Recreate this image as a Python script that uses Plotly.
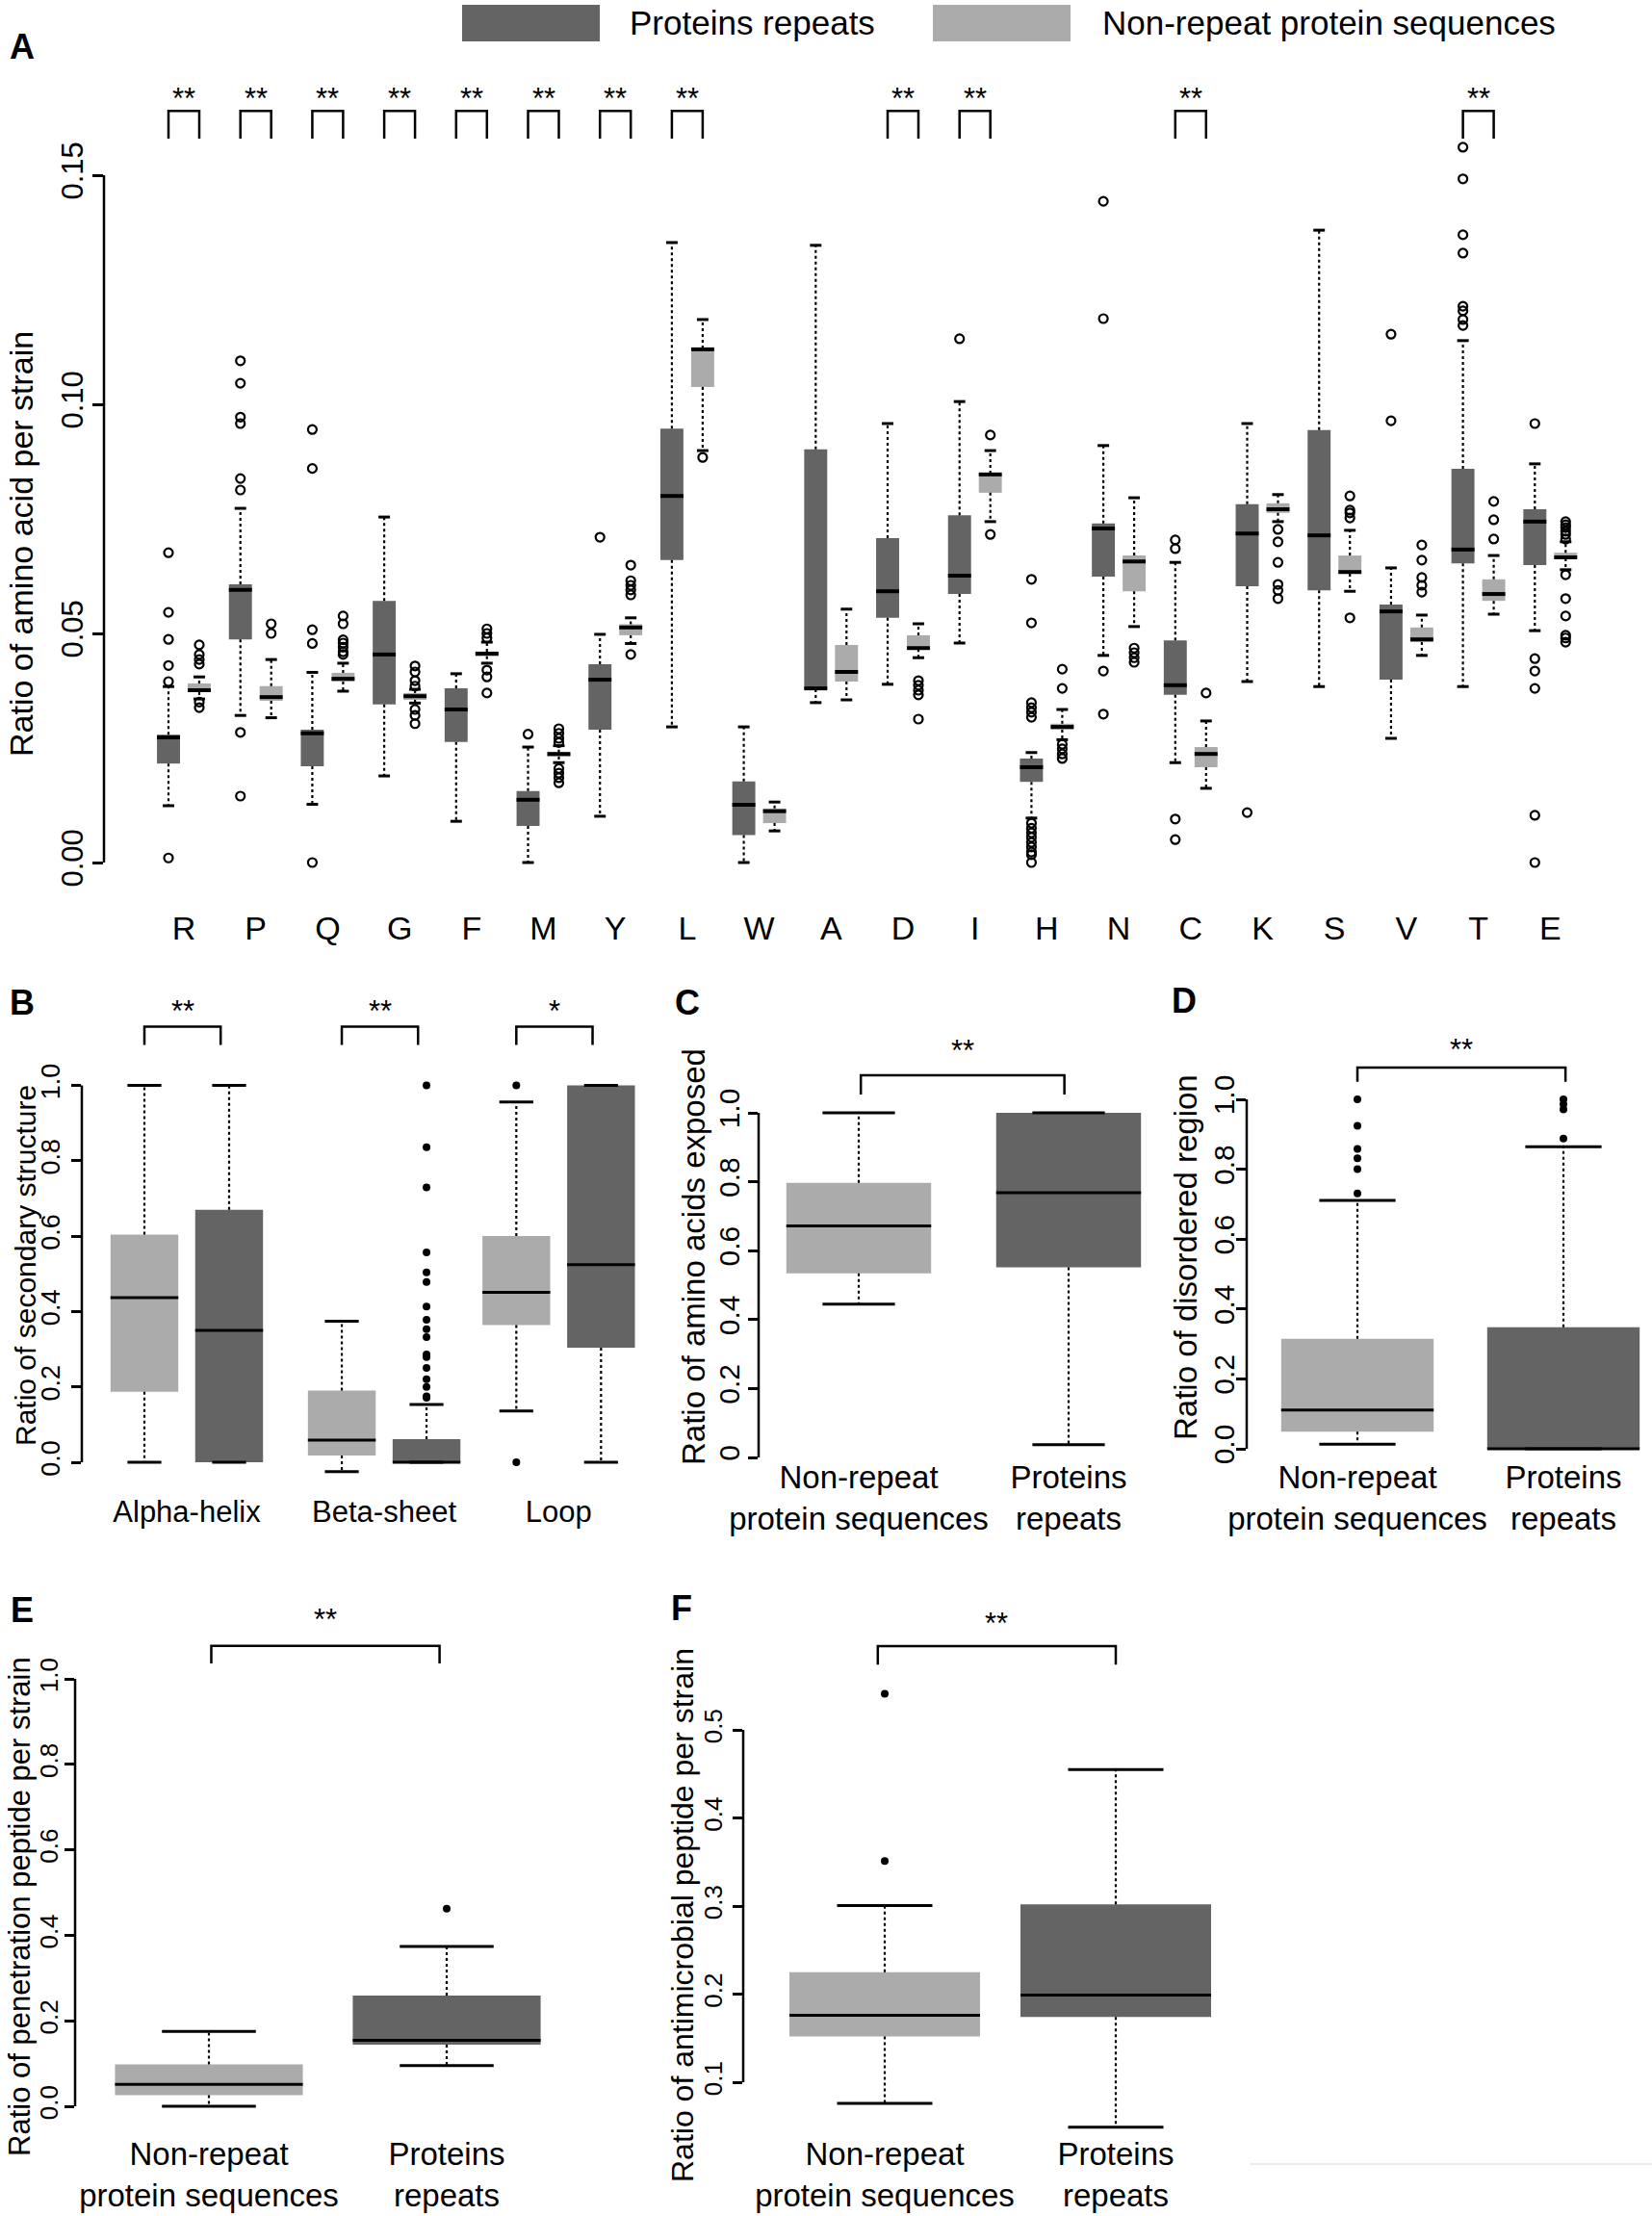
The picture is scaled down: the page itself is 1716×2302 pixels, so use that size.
import plotly.graph_objects as go

# ============================ DATA ============================
AMINO_ACIDS = ["R", "P", "Q", "G", "F", "M", "Y", "L", "W", "A",
               "D", "I", "H", "N", "C", "K", "S", "V", "T", "E"]
A_SIGNIF = ["**", "**", "**", "**", "**", "**", "**", "**", "", "",
            "**", "**", "", "", "**", "", "", "", "**", ""]

# Panel A - Proteins repeats (dark)
A_REP_LOW = [0.0124, 0.0321, 0.0127, 0.0189, 0.0090, 0.0000, 0.0101, 0.0296, 0.0000, 0.0349,
             0.0389, 0.0479, 0.0097, 0.0452, 0.0218, 0.0395, 0.0384, 0.0271, 0.0384, 0.0506]
A_REP_Q1 = [0.0216, 0.0487, 0.0210, 0.0345, 0.0263, 0.0080, 0.0290, 0.0660, 0.0060, 0.0378,
            0.0534, 0.0586, 0.0176, 0.0624, 0.0366, 0.0603, 0.0594, 0.0399, 0.0653, 0.0649]
A_REP_MED = [0.0273, 0.0595, 0.0282, 0.0454, 0.0334, 0.0137, 0.0399, 0.0800, 0.0126, 0.0380,
             0.0592, 0.0626, 0.0208, 0.0729, 0.0387, 0.0718, 0.0714, 0.0548, 0.0683, 0.0744]
A_REP_Q3 = [0.0279, 0.0607, 0.0290, 0.0571, 0.0380, 0.0156, 0.0433, 0.0947, 0.0177, 0.0902,
            0.0708, 0.0758, 0.0227, 0.0740, 0.0485, 0.0782, 0.0944, 0.0563, 0.0859, 0.0771]
A_REP_HIGH = [0.0384, 0.0773, 0.0415, 0.0754, 0.0412, 0.0252, 0.0498, 0.1353, 0.0296, 0.1347,
              0.0958, 0.1006, 0.0240, 0.0910, 0.0655, 0.0958, 0.1380, 0.0643, 0.1139, 0.0870]
A_REP_OUT = [
    [0.0676, 0.0546, 0.0487, 0.0430, 0.0395, 0.0010],
    [0.1095, 0.1046, 0.0972, 0.0958, 0.0838, 0.0813, 0.0284, 0.0145],
    [0.0945, 0.0860, 0.0508, 0.0478, 0.0000],
    [],
    [],
    [0.0280],
    [0.0710],
    [],
    [],
    [],
    [],
    [0.1143],
    [0.0618, 0.0523, 0.0349, 0.0338, 0.0328, 0.0317, 0.0086, 0.0075, 0.0065, 0.0055,
     0.0044, 0.0034, 0.0023, 0.0017, 0.0000],
    [0.1443, 0.1187, 0.0418, 0.0324],
    [0.0704, 0.0685, 0.0095, 0.0050],
    [0.0109],
    [],
    [0.1153, 0.0964],
    [0.1561, 0.1492, 0.1370, 0.1330, 0.1214, 0.1204, 0.1185, 0.1172],
    [0.0958, 0.0445, 0.0418, 0.0380, 0.0103, 0.0000],
]

# Panel A - Non-repeat protein sequences (light)
A_NON_LOW = [0.0357, 0.0316, 0.0374, 0.0348, 0.0435, 0.0218, 0.0478, 0.0899, 0.0069, 0.0355,
             0.0447, 0.0744, 0.0268, 0.0515, 0.0162, 0.0744, 0.0592, 0.0452, 0.0542, 0.0639]
A_NON_Q1 = [0.0372, 0.0353, 0.0395, 0.0355, 0.0450, 0.0231, 0.0496, 0.1038, 0.0086, 0.0395,
            0.0466, 0.0807, 0.0290, 0.0592, 0.0208, 0.0763, 0.0630, 0.0481, 0.0571, 0.0664]
A_NON_MED = [0.0376, 0.0361, 0.0401, 0.0363, 0.0456, 0.0237, 0.0513, 0.1120, 0.0112, 0.0416,
             0.0468, 0.0847, 0.0296, 0.0657, 0.0237, 0.0771, 0.0634, 0.0487, 0.0586, 0.0666]
A_NON_Q3 = [0.0391, 0.0385, 0.0414, 0.0370, 0.0460, 0.0240, 0.0520, 0.1122, 0.0118, 0.0475,
            0.0496, 0.0849, 0.0303, 0.0670, 0.0252, 0.0784, 0.0670, 0.0513, 0.0618, 0.0676]
A_NON_HIGH = [0.0405, 0.0443, 0.0435, 0.0378, 0.0481, 0.0255, 0.0534, 0.1185, 0.0132, 0.0553,
              0.0521, 0.0899, 0.0334, 0.0796, 0.0309, 0.0803, 0.0725, 0.0540, 0.0670, 0.0700]
A_NON_OUT = [
    [0.0475, 0.0454, 0.0443, 0.0433, 0.0350, 0.0338],
    [0.0521, 0.0500],
    [0.0538, 0.0521, 0.0486, 0.0479, 0.0470, 0.0460, 0.0454],
    [0.0429, 0.0416, 0.0397, 0.0385, 0.0334, 0.0321, 0.0303],
    [0.0510, 0.0500, 0.0490, 0.0420, 0.0405, 0.0370],
    [0.0292, 0.0282, 0.0271, 0.0262, 0.0205, 0.0195, 0.0185, 0.0174],
    [0.0649, 0.0615, 0.0605, 0.0595, 0.0584, 0.0454],
    [0.0884],
    [],
    [],
    [0.0397, 0.0387, 0.0376, 0.0366, 0.0313],
    [0.0933, 0.0716],
    [0.0422, 0.0380, 0.0258, 0.0248, 0.0237, 0.0227],
    [0.0468, 0.0458, 0.0447, 0.0437],
    [0.0370],
    [0.0727, 0.0700, 0.0655, 0.0607, 0.0594, 0.0576],
    [0.0800, 0.0769, 0.0763, 0.0752, 0.0534],
    [0.0693, 0.0660, 0.0622, 0.0605, 0.0590],
    [0.0788, 0.0748, 0.0706],
    [0.0744, 0.0737, 0.0731, 0.0723, 0.0716, 0.0706, 0.0628, 0.0576, 0.0538, 0.0496,
     0.0490, 0.0481],
]

# Panel B - secondary structure
B_CATEGORIES = ["Alpha-helix", "Beta-sheet", "Loop"]
B_SIGNIF = ["**", "**", "*"]
B_NON_LOW = [0.000, -0.025, 0.136]
B_NON_Q1 = [0.187, 0.018, 0.364]
B_NON_MED = [0.437, 0.059, 0.451]
B_NON_Q3 = [0.604, 0.190, 0.600]
B_NON_HIGH = [1.000, 0.374, 0.956]
B_NON_OUT = [[], [], [1.000, 0.000]]
B_REP_LOW = [0.000, 0.000, 0.000]
B_REP_Q1 = [0.000, 0.000, 0.304]
B_REP_MED = [0.350, 0.000, 0.524]
B_REP_Q3 = [0.670, 0.061, 1.000]
B_REP_HIGH = [1.000, 0.153, 1.000]
B_REP_OUT = [[], [1.000, 0.836, 0.729, 0.557, 0.504, 0.478, 0.413, 0.378, 0.353, 0.332,
                  0.286, 0.279, 0.250, 0.220, 0.200, 0.175, 0.171], []]

# Panels C-F: [Non-repeat protein sequences, Proteins repeats]
GROUP_LABELS = ["Non-repeat<br>protein sequences", "Proteins<br>repeats"]
C_LOW, C_Q1, C_MED, C_Q3, C_HIGH = [0.445, 0.037], [0.534, 0.552], [0.672, 0.768], [0.797, 1.000], [1.000, 1.000]
C_OUT = [[], []]
D_LOW, D_Q1, D_MED, D_Q3, D_HIGH = [0.013, 0.000], [0.049, 0.000], [0.111, 0.000], [0.315, 0.348], [0.711, 0.864]
D_OUT = [[1.000, 0.924, 0.858, 0.831, 0.800, 0.731], [1.000, 0.986, 0.971, 0.888]]
E_LOW, E_Q1, E_MED, E_Q3, E_HIGH = [0.000, 0.095], [0.026, 0.144], [0.051, 0.154], [0.098, 0.259], [0.175, 0.374]
E_OUT = [[], [0.462]]
F_LOW, F_Q1, F_MED, F_Q3, F_HIGH = [0.076, 0.049], [0.152, 0.174], [0.176, 0.199], [0.225, 0.302], [0.3005, 0.455]
F_OUT = [[0.541, 0.351], []]

A_YTICKS = [0.0, 0.05, 0.10, 0.15]
A_YTICKTEXT = ["0.00", "0.05", "0.10", "0.15"]
UNIT_TICKS = [0.0, 0.2, 0.4, 0.6, 0.8, 1.0]
UNIT_TICKTEXT = ["0.0", "0.2", "0.4", "0.6", "0.8", "1.0"]
C_TICKTEXT = ["0", "0.2", "0.4", "0.6", "0.8", "1.0"]
F_TICKS = [0.1, 0.2, 0.3, 0.4, 0.5]
F_TICKTEXT = ["0.1", "0.2", "0.3", "0.4", "0.5"]

# ============================ STYLE / LAYOUT ============================
W, H = 1716, 2302
FONT = "Liberation Sans, Arial, Helvetica, sans-serif"
DARK = "#646464"
LIGHT = "#ababab"
STAR_SIZE = 31

fig = go.Figure()
axes_layout = {}
shapes = []
annotations = []


def setup_axes(n, xdom, ydom, xmap, ymap, xtickvals, xticktext, xfont,
               ytickvals, yticktext, yfont, ticklen, xstand, ystand):
    xa = "xaxis" if n == 1 else f"xaxis{n}"
    ya = "yaxis" if n == 1 else f"yaxis{n}"
    xid = "x" if n == 1 else f"x{n}"
    yid = "y" if n == 1 else f"y{n}"
    c0, u0, kx = xmap          # pixel c0 <-> unit u0, kx px per unit
    p0, v0, ky = ymap          # pixel p0 <-> value v0, ky px per unit
    axes_layout[xa] = dict(
        domain=[xdom[0] / W, xdom[1] / W],
        range=[u0 + (xdom[0] - c0) / kx, u0 + (xdom[1] - c0) / kx],
        anchor=yid, showgrid=False, zeroline=False, showline=False, ticks="",
        automargin=False,
        tickvals=xtickvals, ticktext=xticktext, ticklabelstandoff=xstand,
        tickfont=dict(family=FONT, size=xfont, color="black"), fixedrange=True)
    axes_layout[ya] = dict(
        domain=[1 - ydom[1] / H, 1 - ydom[0] / H],
        range=[v0 + (p0 - ydom[1]) / ky, v0 + (p0 - ydom[0]) / ky],
        anchor=xid, showgrid=False, zeroline=False, showline=False, automargin=False,
        ticks="outside", ticklen=ticklen, tickwidth=2.5, tickcolor="black",
        tickvals=ytickvals, ticktext=yticktext, tickangle=-90, ticklabelstandoff=ystand,
        tickfont=dict(family=FONT, size=yfont, color="black"), fixedrange=True)
    shapes.append(dict(type="line", xref=f"{xid} domain", x0=0, x1=0, yref=yid,
                       y0=min(ytickvals), y1=max(ytickvals),
                       line=dict(color="black", width=2.5)))
    return xid, yid


def add_boxes(xid, yid, pos, low, q1, med, q3, high, outs, width, color,
              med_w, open_marker, msize):
    common = dict(xaxis=xid, yaxis=yid, hoverinfo="skip", showlegend=False)
    fig.add_trace(go.Bar(x=pos, y=[b - a for a, b in zip(q1, q3)], base=q1, width=width,
                         marker=dict(color=color, line=dict(width=0)), **common))
    wx, wy, cx, cy, mx, my = [], [], [], [], [], []
    for p, lo, a, m, b, hi in zip(pos, low, q1, med, q3, high):
        wx += [p, p, None, p, p, None]
        wy += [b, hi, None, a, lo, None]
        cx += [p - width / 4, p + width / 4, None, p - width / 4, p + width / 4, None]
        cy += [hi, hi, None, lo, lo, None]
        mx += [p - width / 2, p + width / 2, None]
        my += [m, m, None]
    fig.add_trace(go.Scatter(x=wx, y=wy, mode="lines",
                             line=dict(color="black", width=2.2, dash="dot"), **common))
    fig.add_trace(go.Scatter(x=cx, y=cy, mode="lines",
                             line=dict(color="black", width=3), **common))
    fig.add_trace(go.Scatter(x=mx, y=my, mode="lines",
                             line=dict(color="black", width=med_w), **common))
    ox, oy = [], []
    for p, lst in zip(pos, outs):
        ox += [p] * len(lst)
        oy += list(lst)
    if ox:
        if open_marker:
            mk = dict(symbol="circle-open", size=msize, color="black", line=dict(width=2.2, color="black"))
        else:
            mk = dict(symbol="circle", size=msize, color="black")
        fig.add_trace(go.Scatter(x=ox, y=oy, mode="markers", marker=mk, cliponaxis=False, **common))


def add_brackets(xid, yid, lefts, rights, labels, y_bot, y_top, y_txt, size):
    bx, by = [], []
    for l, r, lab in zip(lefts, rights, labels):
        if not lab:
            continue
        bx += [l, l, r, r, None]
        by += [y_bot, y_top, y_top, y_bot, None]
        annotations.append(dict(x=(l + r) / 2, y=y_txt, xref=xid, yref=yid, text=lab,
                                showarrow=False, xanchor="center", yanchor="middle",
                                font=dict(family=FONT, size=size, color="black")))
    fig.add_trace(go.Scatter(x=bx, y=by, mode="lines", line=dict(color="black", width=2.5),
                             xaxis=xid, yaxis=yid, hoverinfo="skip", showlegend=False))


def paper_text(x, y, text, size, angle=0, xanchor="center", bold=False):
    annotations.append(dict(x=x / W, y=1 - y / H, xref="paper", yref="paper",
                            text=f"<b>{text}</b>" if bold else text, showarrow=False,
                            textangle=angle, xanchor=xanchor, yanchor="middle",
                            font=dict(family=FONT, size=size, color="black")))


# ---------------- Panel A ----------------
A_OFF, A_W = 0.214, 0.32
idx = list(range(len(AMINO_ACIDS)))
xa, ya = setup_axes(1, (108, 1700), (70, 940), (191, 0, 74.7), (896, 0, 4760),
                    idx, AMINO_ACIDS, 34, A_YTICKS, A_YTICKTEXT, 31, 11, 1, -2)
rep_pos = [i - A_OFF for i in idx]
non_pos = [i + A_OFF for i in idx]
add_boxes(xa, ya, rep_pos, A_REP_LOW, A_REP_Q1, A_REP_MED, A_REP_Q3, A_REP_HIGH, A_REP_OUT,
          A_W, DARK, 4, True, 9)
add_boxes(xa, ya, non_pos, A_NON_LOW, A_NON_Q1, A_NON_MED, A_NON_Q3, A_NON_HIGH, A_NON_OUT,
          A_W, LIGHT, 4, True, 9)
add_brackets(xa, ya, rep_pos, non_pos, A_SIGNIF, 0.158, 0.164, 0.1668, STAR_SIZE)
paper_text(22, 565, "Ratio of amino acid per strain", 34, angle=-90)
paper_text(23, 49, "A", 36, bold=True)

# ---------------- Panel B ----------------
B_GROUPS = [1.0, 3.33, 5.39]
B_W = 0.8
xb, yb = setup_axes(2, (85, 680), (1035, 1545), (194, 1, 88), (1519, 0, 391.5),
                    B_GROUPS, B_CATEGORIES, 31, UNIT_TICKS, UNIT_TICKTEXT, 27, 10, 4, 1)
b_non = [g - 0.5 for g in B_GROUPS]
b_rep = [g + 0.5 for g in B_GROUPS]
add_boxes(xb, yb, b_non, B_NON_LOW, B_NON_Q1, B_NON_MED, B_NON_Q3, B_NON_HIGH, B_NON_OUT,
          B_W, LIGHT, 3, False, 8)
add_boxes(xb, yb, b_rep, B_REP_LOW, B_REP_Q1, B_REP_MED, B_REP_Q3, B_REP_HIGH, B_REP_OUT,
          B_W, DARK, 3, False, 8)
add_brackets(xb, yb, b_non, [p - 0.1 for p in b_rep], B_SIGNIF, 1.107, 1.156, 1.196, STAR_SIZE)
paper_text(26, 1315, "Ratio of secondary structure", 30, angle=-90)
paper_text(23, 1041, "B", 36, bold=True)

# ---------------- Panels C-F ----------------
def two_group_panel(n, xdom, ydom, xmap, ymap, yticks, yticktext, yfont, xstand, ystand,
                    low, q1, med, q3, high, outs, width, br, title, title_xy, title_size,
                    letter, letter_xy):
    xid, yid = setup_axes(n, xdom, ydom, xmap, ymap, [1, 2], GROUP_LABELS, 33,
                          yticks, yticktext, yfont, 10, xstand, ystand)
    for k, col in enumerate([LIGHT, DARK]):
        add_boxes(xid, yid, [k + 1], [low[k]], [q1[k]], [med[k]], [q3[k]], [high[k]],
                  [outs[k]], width, col, 3, False, 8)
    add_brackets(xid, yid, [1 + br[0]], [2 + br[1]], ["**"], br[2], br[3], br[4], STAR_SIZE)
    paper_text(title_xy[0], title_xy[1], title, title_size, angle=-90)
    paper_text(letter_xy[0], letter_xy[1], letter, 36, bold=True)


two_group_panel(3, (788, 1200), (1075, 1525), (892, 1, 218), (1514, 0, 358),
                UNIT_TICKS, C_TICKTEXT, 30, -13, -3,
                C_LOW, C_Q1, C_MED, C_Q3, C_HIGH, C_OUT, 0.69,
                (0.01, -0.02, 1.053, 1.109, 1.179), "Ratio of amino acids exposed", (720, 1306), 33,
                "C", (714, 1041))
two_group_panel(4, (1295, 1716), (1075, 1518), (1410, 1, 214), (1505, 0, 363),
                UNIT_TICKS, UNIT_TICKTEXT, 30, -6, -10,
                D_LOW, D_Q1, D_MED, D_Q3, D_HIGH, D_OUT, 0.74,
                (0.0, 0.01, 1.05, 1.091, 1.142), "Ratio of disordered region", (1231, 1306), 33,
                "D", (1230, 1039))
two_group_panel(5, (78, 640), (1660, 2215), (217, 1, 247), (2188, 0, 444),
                UNIT_TICKS, UNIT_TICKTEXT, 26, 0, -3,
                E_LOW, E_Q1, E_MED, E_Q3, E_HIGH, E_OUT, 0.79,
                (0.01, -0.03, 1.036, 1.077, 1.139), "Ratio of penetration peptide per strain", (20, 1981), 31,
                "E", (23, 1672))
two_group_panel(6, (772, 1300), (1660, 2215), (919, 1, 240), (2163, 0.1, 915),
                F_TICKS, F_TICKTEXT, 26, 0, 1,
                F_LOW, F_Q1, F_MED, F_Q3, F_HIGH, F_OUT, 0.825,
                (-0.03, 0.0, 0.574, 0.595, 0.621), "Ratio of antimicrobial peptide per strain", (709, 1990), 32,
                "F", (708, 1670))

# ---------------- Legend (top) ----------------
shapes.append(dict(type="rect", xref="paper", yref="paper", x0=480 / W, x1=623 / W,
                   y0=1 - 43 / H, y1=1 - 5 / H, fillcolor=DARK, line=dict(width=0)))
shapes.append(dict(type="rect", xref="paper", yref="paper", x0=969 / W, x1=1112 / W,
                   y0=1 - 43 / H, y1=1 - 5 / H, fillcolor=LIGHT, line=dict(width=0)))
paper_text(652, 23, "Proteins repeats", 35, xanchor="left")
paper_text(1143, 23, "Non-repeat protein sequences", 35, xanchor="left")

# faint scan line at the bottom right of the original
shapes.append(dict(type="line", xref="paper", yref="paper", x0=1298 / W, x1=1,
                   y0=1 - 2248 / H, y1=1 - 2248 / H, line=dict(color="#ececec", width=2)))

fig.update_layout(
    template="none",
    width=W, height=H, margin=dict(l=0, r=0, t=0, b=0, pad=0, autoexpand=False),
    paper_bgcolor="white", plot_bgcolor="white", barmode="overlay",
    showlegend=False, shapes=shapes, annotations=annotations,
    font=dict(family=FONT, color="black"), **axes_layout)

fig.write_html("out.html", config={"displayModeBar": False},
               post_script="document.body.style.margin='0px';document.body.style.padding='0px';")
